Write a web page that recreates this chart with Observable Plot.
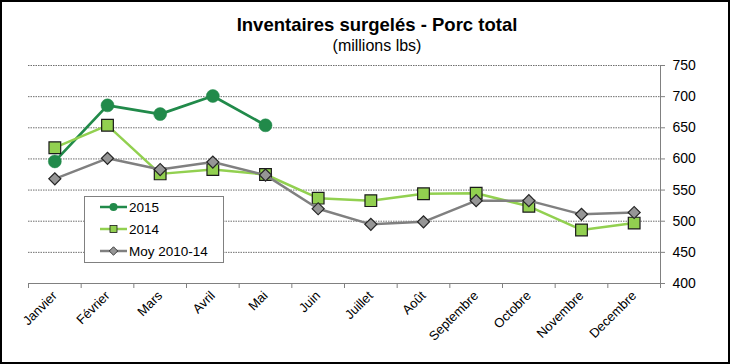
<!DOCTYPE html>
<html>
<head>
<meta charset="utf-8">
<script src="https://cdn.jsdelivr.net/npm/d3@7"></script>
<script src="https://cdn.jsdelivr.net/npm/@observablehq/plot@0.6"></script>
<style>
  html, body { margin: 0; padding: 0; background: #fff; }
  #wrap { position: relative; width: 730px; height: 364px; overflow: hidden; font-family: Arial, "Liberation Sans", sans-serif; background: #fff; }
  #title { position: absolute; left: 0; width: 754px; top: 15px; text-align: center; font-size: 18.5px; font-weight: bold; line-height: 20px; color: #000; }
  #subtitle { position: absolute; left: 0; width: 754px; top: 36.5px; text-align: center; font-size: 16px; line-height: 18px; color: #000; }
  #chart { position: absolute; left: 0; top: 0; }
  #legend { position: absolute; left: 0; top: 0; }
  #border { position: absolute; left: 0; top: 0; width: 730px; height: 364px; box-sizing: border-box; border: 2px solid #000; pointer-events: none; }
</style>
</head>
<body>
<div id="wrap">
  <div id="chart"></div>
  <div id="title">Inventaires surgelés - Porc total</div>
  <div id="subtitle">(millions lbs)</div>
  <svg id="legend" width="730" height="364"></svg>
  <div id="border"></div>
</div>
<script>
const months = ["Janvier","Février","Mars","Avril","Mai","Juin","Juillet","Août","Septembre","Octobre","Novembre","Decembre"];
const values2015 = [596, 686, 672, 701, 654];
const values2014 = [618, 654, 576, 583, 575, 537, 533, 544, 545, 524, 486, 497];
const valuesMoy = [568, 601, 583, 595, 574, 520, 495, 499, 533, 533, 511, 514];
const yTicks = [400, 450, 500, 550, 600, 650, 700, 750];
const seriesNames = ["2015", "2014", "Moy 2010-14"];

const C2015 = "#218a4a";
const C2014 = "#92d050";
const CMoy = "#808080";

const d2015 = values2015.map((v, i) => ({i, v}));
const d2014 = values2014.map((v, i) => ({i, v}));
const dMoy = valuesMoy.map((v, i) => ({i, v}));

const chart = Plot.plot({
  width: 730,
  height: 364,
  marginTop: 65,
  marginBottom: 81,
  marginLeft: 28,
  marginRight: 70,
  style: {fontFamily: "Arial, 'Liberation Sans', sans-serif", background: "transparent", color: "#000"},
  x: {domain: [-0.5, 11.5]},
  y: {domain: [400, 750]},
  marks: [
    Plot.gridY(yTicks.filter(t => t > 400), {stroke: "#6e6e6e", strokeOpacity: 1, strokeDasharray: "1.5,1", strokeWidth: 1}),
    Plot.ruleY([400], {stroke: "#808080", strokeWidth: 1}),
    Plot.ruleX([11.5], {stroke: "#808080", strokeWidth: 1}),
    Plot.axisY({anchor: "right", ticks: yTicks, tickSize: 4, tickPadding: 8, fontSize: 14, label: null, stroke: "#808080", fill: "#000"}),
    Plot.axisX({ticks: d3.range(-0.5, 12, 1), tickSize: 5, tickFormat: () => "", label: null, stroke: "#808080"}),
    Plot.axisX({ticks: d3.range(12), tickSize: 0, tickPadding: 10, tickRotate: -45, tickFormat: i => months[i], fontSize: 13, label: null, fill: "#000"}),
    Plot.line(d2015, {x: "i", y: "v", stroke: C2015, strokeWidth: 2.75}),
    Plot.dot(d2015, {x: "i", y: "v", r: 6.5, fill: C2015, stroke: C2015, strokeWidth: 0.5}),
    Plot.line(d2014, {x: "i", y: "v", stroke: C2014, strokeWidth: 2.5}),
    Plot.dot(d2014, {x: "i", y: "v", symbol: "square", r: 6.6, fill: C2014, stroke: "#1a1a1a", strokeWidth: 1.2}),
    Plot.line(dMoy, {x: "i", y: "v", stroke: CMoy, strokeWidth: 2.5}),
    Plot.dot(dMoy, {x: "i", y: "v", symbol: "square", rotate: 45, r: 4.8, fill: "#969696", stroke: "#262626", strokeWidth: 1.2})
  ]
});
document.getElementById("chart").appendChild(chart);

// Legend
const lg = d3.select("#legend");
lg.append("rect").attr("x", 84.5).attr("y", 196.5).attr("width", 139).attr("height", 66)
  .attr("fill", "#fff").attr("stroke", "#808080").attr("stroke-width", 1);
const rows = [
  {name: seriesNames[0], stroke: C2015, y: 207},
  {name: seriesNames[1], stroke: C2014, y: 229},
  {name: seriesNames[2], stroke: CMoy, y: 251}
];
rows.forEach((r, k) => {
  lg.append("line").attr("x1", 100).attr("x2", 127).attr("y1", r.y).attr("y2", r.y)
    .attr("stroke", r.stroke).attr("stroke-width", 2.5);
  if (k === 0) {
    lg.append("circle").attr("cx", 113.5).attr("cy", r.y).attr("r", 4).attr("fill", C2015);
  } else if (k === 1) {
    lg.append("rect").attr("x", 110).attr("y", r.y - 3.5).attr("width", 7).attr("height", 7)
      .attr("fill", C2014).attr("stroke", "#1a1a1a").attr("stroke-width", 0.8);
  } else {
    lg.append("rect").attr("x", -3).attr("y", -3).attr("width", 6).attr("height", 6)
      .attr("transform", `translate(113.5,${r.y}) rotate(45)`)
      .attr("fill", "#969696").attr("stroke", "#262626").attr("stroke-width", 0.8);
  }
  lg.append("text").attr("x", 129).attr("y", r.y + 5).attr("font-size", 13.5)
    .attr("font-family", "Arial, 'Liberation Sans', sans-serif").attr("fill", "#000").text(r.name);
});
</script>
</body>
</html>
